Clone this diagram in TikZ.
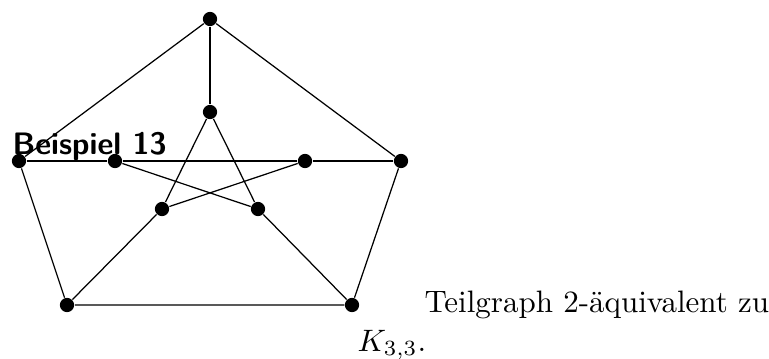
\documentclass[tikz,border=0pt]{standalone}
\usepackage{amsmath,amssymb}
\usepackage{tikz}
\usetikzlibrary{positioning}

\begin{document}
\begin{tikzpicture}[
    x=0.3226pt, y=-0.3226pt,
    vertex/.style={circle, fill=black, draw=none, inner sep=0pt, minimum size=4.6pt},
    edge/.style={draw=black, line width=0.4pt},
    label/.style={inner sep=0pt, anchor=base west}
]
\useasboundingbox (0,0) rectangle (769,358);

% Outer vertices
\node (otop) [vertex] at (210,19) {};
\node (oleft) [vertex] at (19,161) {};
\node (oright) [vertex] at (401,161) {};
\node (obl) [vertex] at (67,305) {};
\node (obr) [vertex] at (352,305) {};

% Inner vertices
\node (itop) [vertex] at (210,112) {};
\node (ileft) [vertex] at (115,161) {};
\node (iright) [vertex] at (305,161) {};
\node (ibl) [vertex] at (162,209) {};
\node (ibr) [vertex] at (258,209) {};

% Outer cycle
\draw [edge] (otop) -- (oleft) -- (obl) -- (obr) -- (oright) -- (otop);

% Spokes
\draw [edge] (otop) -- (itop);
\draw [edge] (oleft) -- (ileft);
\draw [edge] (oright) -- (iright);
\draw [edge] (obl) -- (ibl);
\draw [edge] (obr) -- (ibr);

% Inner star
\draw [edge] (itop) -- (ibl);
\draw [edge] (itop) -- (ibr);
\draw [edge] (ileft) -- (iright);
\draw [edge] (ileft) -- (ibr);
\draw [edge] (iright) -- (ibl);

% Texts
\node (title) [label, font=\sffamily\bfseries] at (12,154) {Beispiel 13};
\node (caption) [label] at (424,312) {Teilgraph 2-äquivalent zu};
\node (kgraph) [label] at (357,351) {$K_{3,3}$.};

\end{tikzpicture}
\end{document}
